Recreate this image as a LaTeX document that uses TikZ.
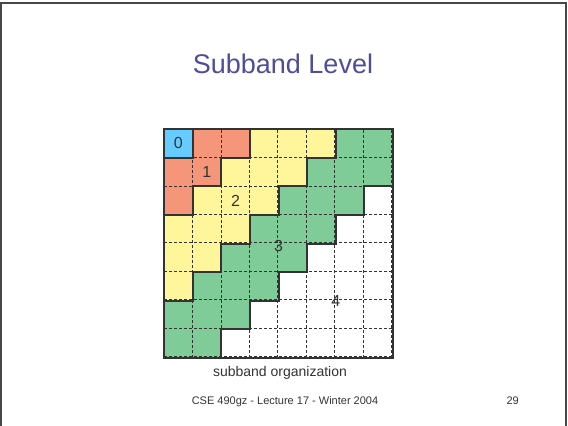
\documentclass[tikz,border=0pt]{standalone}
\usepackage{fontspec}
\setmainfont{Liberation Sans}

\definecolor{titleblue}{RGB}{77,77,153}
\definecolor{edgegray}{RGB}{51,51,51}
\definecolor{band0}{RGB}{102,204,255}
\definecolor{band1}{RGB}{245,150,122}
\definecolor{band2}{RGB}{255,245,154}
\definecolor{band3}{RGB}{128,204,153}
\definecolor{band4}{RGB}{255,255,255}

\tikzstyle{bandline} = [draw = edgegray, line width = 2pt]
\tikzstyle{cellline} = [draw = edgegray, line width = 0.8pt, dash pattern = on 3pt off 2pt]
\tikzstyle{bandnum} = [text = edgegray, font = \fontsize{16}{16}\selectfont]

\begin{document}
\begin{tikzpicture}[x = 1pt, y = -1pt]
		\useasboundingbox (0, 0) rectangle (568, 426);
		\draw [draw = edgegray!90, line width = 2pt] (1, 426) -- (1, 3) -- (566, 3) -- (566, 426);

		\node [anchor = base, text = titleblue, font = \fontsize{27}{27}\selectfont] at (283, 73) (title) {Subband Level};

		\begin{scope}[shift = {(164, 129)}, x = 28.625pt, y = -28.625pt]
			% cells coloured by band (row + column)
			\foreach \r in {0,...,7}
				\foreach \c in {0,...,7} {
					\pgfmathtruncatemacro\d{\r + \c}
					\pgfmathtruncatemacro\b{\d == 0 ? 0 : (\d < 3 ? 1 : (\d < 6 ? 2 : (\d < 9 ? 3 : 4)))}
					\fill [band\b] (\c, \r) rectangle ++(1, 1);
				}
			\draw [cellline] (0, 0) grid (8, 8);

			% staircase borders between bands
			\begin{scope}
				\clip (0, 0) rectangle (8, 8);
				\foreach \k in {1, 3, 6, 9}
					\draw [bandline] (\k, 0) \foreach \i in {1,...,\k} { -- ++(0, 1) -- ++(-1, 0) };
			\end{scope}
			\draw [bandline] (0, 0) rectangle (8, 8);

			\node [bandnum] at (0.5, 0.5) (0) {0};
			\node [bandnum] at (1.5, 1.5) (1) {1};
			\node [bandnum] at (2.5, 2.5) (2) {2};
			\node [bandnum] at (4, 4.1) (3) {3};
			\node [bandnum] at (6, 6) (4) {4};
		\end{scope}

		\node [anchor = base, text = edgegray, font = \fontsize{14}{14}\selectfont] at (280, 376) (caption) {subband organization};
		\node [anchor = base, text = edgegray, font = \fontsize{11}{11}\selectfont] at (285, 404) (footer) {CSE 490gz - Lecture 17 - Winter 2004};
		\node [anchor = base east, inner xsep = 0pt, text = edgegray, font = \fontsize{11}{11}\selectfont] at (519, 404) (page) {29};
	\end{tikzpicture}
\end{document}
